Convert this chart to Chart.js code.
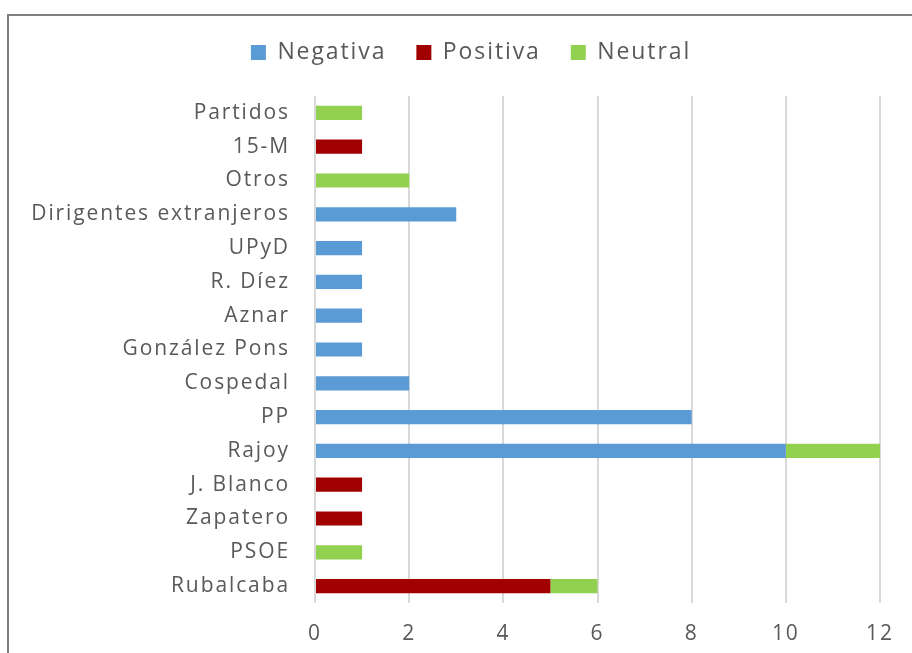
<!DOCTYPE html>
<html><head><meta charset="utf-8">
<script src="https://cdn.jsdelivr.net/npm/chart.js@4"></script>
<style>
html,body{margin:0;padding:0;background:#fff;overflow:hidden;width:912px;height:653px;}
#frame{position:absolute;left:7px;top:14px;width:1000px;height:800px;border:2px solid #7f7f7f;box-sizing:border-box;}
#wrap{position:absolute;left:0;top:0;width:912px;height:653px;}
</style></head><body>
<div id="frame"></div>
<div id="wrap"><canvas id="c" width="912" height="653"></canvas></div>
<script>
const categories = ["Partidos","15-M","Otros","Dirigentes extranjeros","UPyD","R. Díez","Aznar","González Pons","Cospedal","PP","Rajoy","J. Blanco","Zapatero","PSOE","Rubalcaba"];
const negativa = [0,0,0,3,1,1,1,1,2,8,10,0,0,0,0];
const positiva = [0,1,0,0,0,0,0,0,0,0,0,1,1,0,5];
const neutral  = [1,0,2,0,0,0,0,0,0,0,2,0,0,1,1];
const xTicks = [0,2,4,6,8,10,12];

const FONT = "'Open Sans', sans-serif";
const TXT = '#595959';
const SPACING = '1.9px';
function ds(label, data, color){
  return {label, data, backgroundColor: color, borderWidth: 0, barPercentage: 0.42, categoryPercentage: 1};
}
const spacingPlugin = {
  id: 'spacing',
  beforeUpdate(chart){ chart.ctx.letterSpacing = SPACING; },
  beforeLayout(chart){
    chart.ctx.letterSpacing = SPACING;
    const lg = chart.legend;
    if (lg && !lg._patched) {
      const f = lg.fit.bind(lg);
      lg.fit = function(){ f(); this.height += 22; };
      lg._patched = true;
    }
  },
  afterLayout(chart){
    const lg = chart.legend;
    if (lg) { lg.left += 31; lg.right += 31; }
  },
  beforeDraw(chart){ chart.ctx.letterSpacing = SPACING; }
};
new Chart(document.getElementById('c'), {
  type: 'bar',
  data: {
    labels: categories,
    datasets: [ds('Negativa', negativa, '#5B9BD5'), ds('Positiva', positiva, '#A00000'), ds('Neutral', neutral, '#92D050')]
  },
  plugins: [spacingPlugin],
  options: {
    indexAxis: 'y',
    responsive: false,
    animation: false,
    layout: {padding: {left: 0, right: 32, top: 11, bottom: 0}},
    plugins: {
      legend: {
        position: 'top',
        labels: {font: {family: FONT, size: 23}, color: TXT, boxWidth: 15, boxHeight: 15, padding: 30}
      },
      tooltip: {enabled: false}
    },
    scales: {
      x: {
        stacked: true, min: 0, max: 12,
        afterBuildTicks: s => { s.ticks = xTicks.map(v => ({value: v})); },
        afterFit: s => { s.height = 50; },
        ticks: {font: {family: FONT, size: 21}, color: TXT, padding: 18},
        grid: {color: '#d9d9d9', lineWidth: 2, drawTicks: false},
        border: {display: false}
      },
      y: {
        stacked: true,
        afterFit: s => { s.width = 315; },
        ticks: {font: {family: FONT, size: 21}, color: TXT, padding: 25, autoSkip: false},
        grid: {display: false, drawTicks: false},
        border: {display: false}
      }
    }
  }
});
</script>
</body></html>
